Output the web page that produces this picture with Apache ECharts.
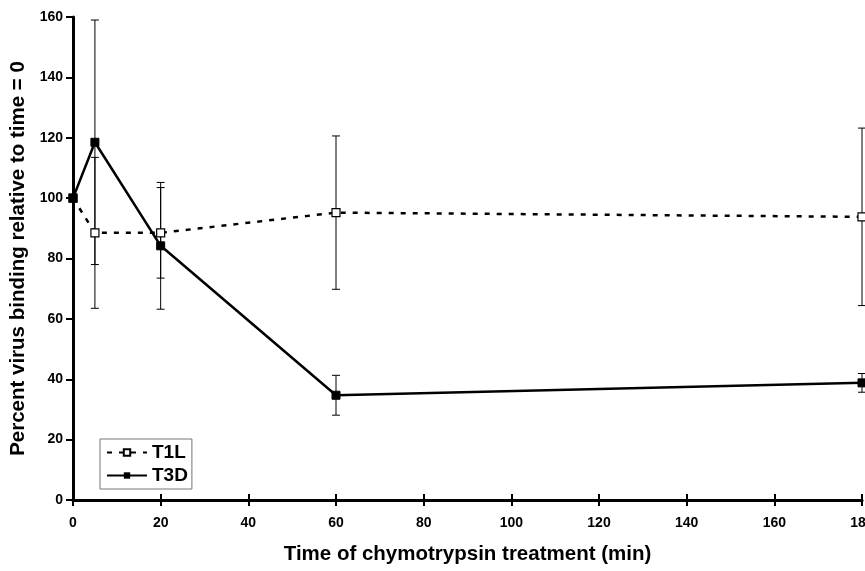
<!DOCTYPE html>
<html><head><meta charset="utf-8">
<script src="https://cdn.jsdelivr.net/npm/echarts@6/dist/echarts.min.js"></script>
<style>html,body{margin:0;padding:0;background:#fff}#c{width:865px;height:571px}</style>
</head><body><div id="c"></div>
<script>
var times = [0, 5, 20, 60, 180];
var t1l = [100, 88.5, 88.5, 95.2, 93.8];
var t1lErr = [0, 25, 15, 25.4, 29.4];
var t3d = [100, 118.5, 84.2, 34.7, 38.8];
var t3dErr = [0, 40.5, 21, 6.6, 3.1];
var xTicks = [0, 20, 40, 60, 80, 100, 120, 140, 160, 180];
var yTicks = [0, 20, 40, 60, 80, 100, 120, 140, 160];

var FONT = "'Liberation Sans Narrow','Arial Narrow','Liberation Sans',Arial,sans-serif";

function pts(v){ return times.map(function(t,i){ return [t, v[i]]; }); }
function errs(v,e){ var out=[]; times.forEach(function(t,i){ if(e[i]>0) out.push([t, v[i]-e[i], v[i]+e[i]]); }); return out; }

function errRender(params, api){
  var x = api.value(0), lo = api.value(1), hi = api.value(2);
  var p1 = api.coord([x, lo]), p2 = api.coord([x, hi]);
  var w = 4;
  var st = {stroke:'#000', lineWidth:1};
  return {type:'group', children:[
    {type:'line', shape:{x1:p1[0],y1:p1[1],x2:p2[0],y2:p2[1]}, style:st},
    {type:'line', shape:{x1:p1[0]-w,y1:p1[1],x2:p1[0]+w,y2:p1[1]}, style:st},
    {type:'line', shape:{x1:p2[0]-w,y1:p2[1],x2:p2[0]+w,y2:p2[1]}, style:st}
  ]};
}

var chart = echarts.init(document.getElementById('c'));
chart.setOption({
  animation:false,
  backgroundColor:'#fff',
  grid:{left:73, right:3, top:17, bottom:71, containLabel:false, outerBoundsMode:'none'},
  legend:{
    orient:'vertical', left:100, top:439,
    data:['T1L','T3D'],
    itemWidth:40, itemHeight:8, itemGap:4,
    padding:[4,4,4,6],
    borderColor:'#777', borderWidth:1,
    textStyle:{fontFamily:FONT, fontWeight:'bold', fontSize:19, color:'#000'}
  },
  xAxis:[{
    type:'value', min:0, max:180, interval:20,
    axisLine:{lineStyle:{color:'#000', width:3}},
    axisTick:{show:true, length:6, lineStyle:{color:'#000', width:2}},
    axisLabel:{fontFamily:FONT, fontWeight:'bold', fontSize:14, color:'#000', margin:16,
      formatter:function(v){ return xTicks.indexOf(v)>=0 ? String(v) : ''; }},
    splitLine:{show:false},
    name:'Time of chymotrypsin treatment (min)', nameLocation:'middle', nameGap:44,
    nameTextStyle:{fontFamily:FONT, fontWeight:'bold', fontSize:20.5, color:'#000'}
  },{
    type:'value', min:0, max:180, interval:20, position:'bottom',
    axisLine:{show:false},
    axisTick:{show:true, inside:true, length:6, lineStyle:{color:'#000', width:2}},
    axisLabel:{show:false}, splitLine:{show:false}
  }],
  yAxis:{
    type:'value', min:0, max:160, interval:20,
    axisLine:{show:true, lineStyle:{color:'#000', width:3}},
    axisTick:{show:true, length:7, lineStyle:{color:'#000', width:2}},
    axisLabel:{fontFamily:FONT, fontWeight:'bold', fontSize:14, color:'#000', margin:10,
      formatter:function(v){ return yTicks.indexOf(v)>=0 ? String(v) : ''; }},
    splitLine:{show:false},
    name:'Percent virus binding relative to time = 0', nameLocation:'middle', nameGap:42,
    nameTextStyle:{fontFamily:FONT, fontWeight:'bold', fontSize:20.5, color:'#000'}
  },
  series:[
    {type:'custom', name:'errT1L', renderItem:errRender, data:errs(t1l,t1lErr), z:1, silent:true},
    {type:'custom', name:'errT3D', renderItem:errRender, data:errs(t3d,t3dErr), z:1, silent:true},
    {type:'line', name:'T1L', data:pts(t1l), symbol:'rect', symbolSize:8,
      lineStyle:{color:'#000', width:2.5, type:[5,7]},
      itemStyle:{color:'#fff', borderColor:'#000', borderWidth:1.2}, z:3},
    {type:'line', name:'T3D', data:pts(t3d), symbol:'rect', symbolSize:8,
      lineStyle:{color:'#000', width:2.5},
      itemStyle:{color:'#000', borderColor:'#000'}, z:4}
  ]
});
</script></body></html>
